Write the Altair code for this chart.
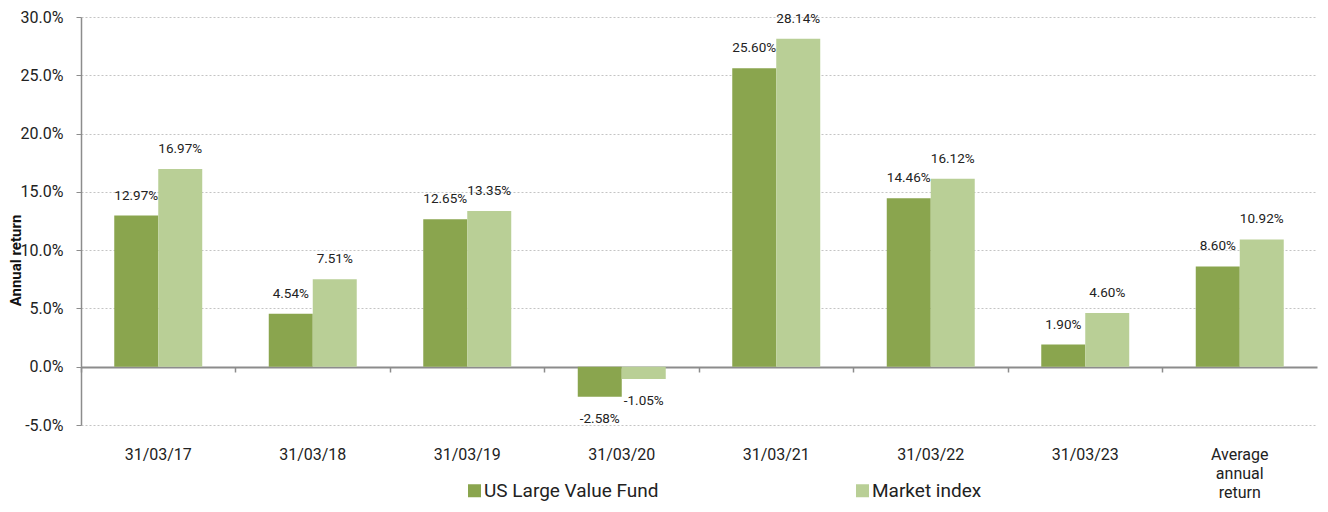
import altair as alt
import pandas as pd

categories = ["31/03/17", "31/03/18", "31/03/19", "31/03/20", "31/03/21",
              "31/03/22", "31/03/23", "Average\nannual\nreturn"]
series = ["US Large Value Fund", "Market index"]
fund = [12.97, 4.54, 12.65, -2.58, 25.60, 14.46, 1.90, 8.60]
index_vals = [16.97, 7.51, 13.35, -1.05, 28.14, 16.12, 4.60, 10.92]
colors = ["#8AA54E", "#B9CF96"]

rows = []
for c, f, m in zip(categories, fund, index_vals):
    rows.append({"cat": c, "series": series[0], "value": f})
    rows.append({"cat": c, "series": series[1], "value": m})
df = pd.DataFrame(rows)

FONT = "Roboto"

x_enc = alt.X("cat:N", sort=categories, title=None,
              scale=alt.Scale(domain=categories, paddingInner=0, paddingOuter=0),
              axis=alt.Axis(bandPosition=0, offset=-58,
                            labelExpr="split(datum.label, '\\n')",
                            labelAngle=0, labelPadding=74, labelLineHeight=19,
                            labelBaseline="top",
                            labelFont=FONT, labelFontSize=16, labelColor="#222222",
                            domainColor="#8C8C8C", domainWidth=2,
                            tickColor="#8C8C8C", tickWidth=1.5, tickSize=5,
                            grid=False))
xo_enc = alt.XOffset("series:N", sort=series,
                     scale=alt.Scale(domain=series, paddingOuter=0.756, paddingInner=0))

base = alt.Chart(df).encode(x=x_enc, xOffset=xo_enc)

bars = base.mark_bar().encode(
    y=alt.Y("value:Q", title="Annual return",
            scale=alt.Scale(domain=[-5, 30], nice=False),
            axis=alt.Axis(values=[-5, 0, 5, 10, 15, 20, 25, 30],
                          labelExpr="replace(format(datum.value, '.1f'), '\u2212', '-') + '%'",
                          labelFont=FONT, labelFontSize=16, labelColor="#222222",
                          labelPadding=13, tickSize=5, tickColor="#8C8C8C",
                          domainColor="#8C8C8C", domainWidth=1.5,
                          gridColor="#C4C4C4", gridDash=[2, 2], gridWidth=1,
                          titleFont=FONT, titleFontSize=15, titleFontWeight="bold",
                          titleColor="#111111", titleX=-66, titleY=243,
                          titleBaseline="middle", titleAngle=270)),
    color=alt.Color("series:N", sort=series,
                    scale=alt.Scale(domain=series, range=colors),
                    legend=alt.Legend(title=None, orient="none", legendX=384, legendY=464,
                                      direction="horizontal", symbolType="square",
                                      symbolSize=169, symbolStrokeWidth=0,
                                      labelFont=FONT, labelFontSize=19,
                                      labelColor="#222222", columnPadding=194,
                                      labelLimit=400, symbolOffset=0, labelOffset=0)),
)

lab = base.transform_calculate(
    label="replace(format(datum.value, '.2f'), '\u2212', '-') + '%'")
pos_text = lab.transform_filter("datum.value >= 0").mark_text(
    font=FONT, fontSize=13.5, color="#222222", dy=-20, baseline="middle"
).encode(y="value:Q", text="label:N")
neg_text = lab.transform_filter("datum.value < 0").mark_text(
    font=FONT, fontSize=13.5, color="#222222", dy=22, baseline="middle"
).encode(y="value:Q", text="label:N")

chart = alt.layer(bars, pos_text, neg_text).properties(
    width=1236, height=408,
    autosize=alt.AutoSizeParams(type="none"),
    padding={"left": 73, "top": 9, "right": 3, "bottom": 76},
).configure_view(stroke=None)

chart.save("out.html", embed_options={"renderer": "svg", "actions": False})
